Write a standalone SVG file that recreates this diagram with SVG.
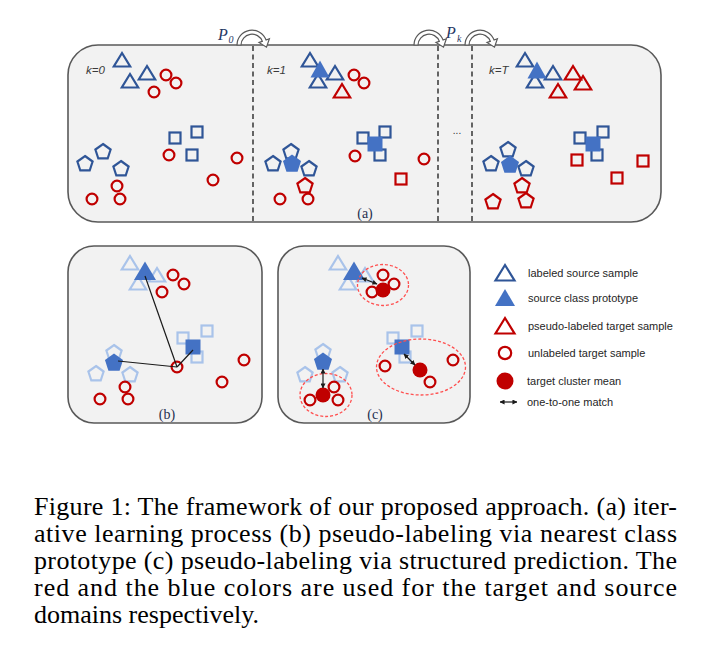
<svg xmlns="http://www.w3.org/2000/svg" xmlns:xlink="http://www.w3.org/1999/xlink" width="703" height="658" viewBox="0 0 703 658">
<style>
.panel{fill:#F2F2F2;stroke:#595959;stroke-width:1.6}
.div{stroke:#404040;stroke-width:1.6;stroke-dasharray:5 3.5;fill:none}
.bo{fill:none;stroke:#2F5597;stroke-width:2.2}
.ro{fill:none;stroke:#C00000;stroke-width:2.2}
.lo{fill:none;stroke:#A9C3EA;stroke-width:2.2}
.bf{fill:#4472C4;stroke:none}
.rf{fill:#C00000;stroke:none}
.ell{fill:none;stroke:#FF4F4F;stroke-width:1.3;stroke-dasharray:3 2}
.ln{stroke:#1a1a1a;stroke-width:1.2;fill:none}
.dbl{stroke:#1a1a1a;stroke-width:1.2;fill:none;marker-start:url(#ah);marker-end:url(#ah)}
.curv{fill:#ffffff;stroke:#595959;stroke-width:1.2}
.k{font-family:'Liberation Sans',Arial,sans-serif;font-style:italic;font-size:11.5px;fill:#3a3a3a}
.lab{font-family:'Liberation Serif','Times New Roman',serif;font-size:14px;fill:#1f2f4f;text-anchor:middle}
.leg{font-family:'Liberation Sans',Arial,sans-serif;font-size:11px;fill:#262626}
.cap{font-family:'Liberation Serif','Times New Roman',serif;font-size:26px;fill:#000}
.p{font-family:'Liberation Serif','Times New Roman',serif;font-style:italic;fill:#1F3864}
</style>
<defs>
<polygon id="tri" points="0,-7 8.2,6.5 -8.2,6.5"/>
<polygon id="triF" points="0,-9.5 9.5,7.5 -9.5,7.5"/>
<polygon id="triB" points="0,-10.5 11,8 -11,8"/>
<polygon id="pent" points="0,-8 7.61,-2.47 4.7,6.47 -4.7,6.47 -7.61,-2.47"/>
<polygon id="pentF" points="0,-9.5 9.04,-2.94 5.58,7.69 -5.58,7.69 -9.04,-2.94"/>
<rect id="sq" x="-5.5" y="-5.5" width="11" height="11"/>
<rect id="sqF" x="-7.5" y="-7.5" width="15" height="15"/>
<circle id="cir" r="5.4"/>
<path id="arc" d="M -15 0 A 15 15 0 0 1 14.1 -5 L 17.4 -6.2 L 14.5 2.2 L 7 -2.6 L 10.3 -3.7 A 11 11 0 0 0 -11 0 Z"/>
<marker id="ah" viewBox="0 0 6 6" refX="5.5" refY="3" markerWidth="5" markerHeight="5" markerUnits="userSpaceOnUse" orient="auto-start-reverse">
<path d="M0,0 L6,3 L0,6 z" fill="#1a1a1a"/>
</marker>
</defs>
<rect width="703" height="658" fill="#ffffff"/>

<!-- panel (a) -->
<g id="panel-a">
<rect class="panel" x="68" y="45" width="593" height="177" rx="30" ry="30"/>
<line class="div" x1="253" y1="46" x2="253" y2="221"/>
<line class="div" x1="438" y1="46" x2="438" y2="221"/>
<line class="div" x1="472" y1="46" x2="472" y2="221"/>
<text class="k" x="86" y="74">k=0</text>
<text class="k" x="267" y="74">k=1</text>
<text class="k" x="489" y="74">k=T</text>
<text x="457" y="134" font-family="'Liberation Sans',Arial,sans-serif" font-size="10" fill="#333" text-anchor="middle">...</text>
<text class="lab" x="365" y="218">(a)</text>
</g>

<g id="k0">
<use href="#tri" x="122" y="60" class="bo"/><use href="#tri" x="130" y="81" class="bo"/><use href="#tri" x="147" y="73" class="bo"/>
<use href="#cir" x="166" y="75" class="ro"/><use href="#cir" x="176" y="83" class="ro"/><use href="#cir" x="154" y="92" class="ro"/>
<use href="#sq" x="197" y="132" class="bo"/><use href="#sq" x="175" y="138" class="bo"/><use href="#sq" x="192" y="155" class="bo"/>
<use href="#cir" x="169" y="155" class="ro"/><use href="#cir" x="237" y="158" class="ro"/><use href="#cir" x="213" y="180" class="ro"/>
<use href="#pent" x="103" y="152" class="bo"/><use href="#pent" x="85" y="164" class="bo"/><use href="#pent" x="121" y="169" class="bo"/>
<use href="#cir" x="117" y="186" class="ro"/><use href="#cir" x="120" y="199" class="ro"/><use href="#cir" x="92" y="199" class="ro"/>
</g>

<g id="k1">
<use href="#tri" x="310" y="60" class="bo"/><use href="#tri" x="318" y="81" class="bo"/><use href="#tri" x="335" y="73" class="bo"/>
<use href="#triF" x="320" y="70" class="bf"/>
<use href="#tri" x="342" y="91" class="ro"/>
<use href="#cir" x="354" y="75" class="ro"/><use href="#cir" x="364" y="83" class="ro"/>
<use href="#sq" x="385" y="132" class="bo"/><use href="#sq" x="363" y="138" class="bo"/><use href="#sq" x="380" y="155" class="bo"/>
<use href="#sqF" x="375" y="144" class="bf"/>
<use href="#cir" x="355" y="156" class="ro"/><use href="#cir" x="424" y="159" class="ro"/>
<use href="#sq" x="401" y="179" class="ro"/>
<use href="#pent" x="291" y="152" class="bo"/><use href="#pent" x="273" y="164" class="bo"/><use href="#pent" x="309" y="169" class="bo"/>
<use href="#pentF" x="292" y="164" class="bf"/>
<use href="#pent" x="305" y="186" class="ro"/>
<use href="#cir" x="308" y="199" class="ro"/><use href="#cir" x="280" y="199" class="ro"/>
</g>

<g id="kT">
<use href="#tri" x="525" y="60" class="bo"/><use href="#tri" x="535" y="81" class="bo"/><use href="#tri" x="553" y="73" class="bo"/>
<use href="#triF" x="537" y="71" class="bf"/>
<use href="#tri" x="573" y="73" class="ro"/><use href="#tri" x="583" y="83" class="ro"/><use href="#tri" x="558" y="91" class="ro"/>
<use href="#sq" x="603" y="132" class="bo"/><use href="#sq" x="580" y="138" class="bo"/><use href="#sq" x="597" y="155" class="bo"/>
<use href="#sqF" x="593" y="144" class="bf"/>
<use href="#sq" x="577" y="160" class="ro"/><use href="#sq" x="643" y="161" class="ro"/><use href="#sq" x="617" y="178" class="ro"/>
<use href="#pent" x="508" y="150" class="bo"/><use href="#pent" x="491" y="164" class="bo"/><use href="#pent" x="526" y="169" class="bo"/>
<use href="#pentF" x="510" y="165" class="bf"/>
<use href="#pent" x="522" y="186" class="ro"/><use href="#pent" x="526" y="201" class="ro"/><use href="#pent" x="493" y="202" class="ro"/>
</g>

<!-- panel (b) -->
<g id="panel-b">
<rect class="panel" x="68" y="246" width="194" height="177" rx="26" ry="26"/>
<use href="#tri" x="130" y="263" class="lo"/><use href="#tri" x="157" y="275" class="lo"/><use href="#tri" x="138" y="283" class="lo"/>
<use href="#triB" x="145" y="272" class="bf"/>
<use href="#cir" x="173" y="275" class="ro"/><use href="#cir" x="184" y="284" class="ro"/><use href="#cir" x="162" y="292" class="ro"/>
<use href="#sq" x="207" y="331" class="lo"/><use href="#sq" x="183" y="338" class="lo"/><use href="#sq" x="197" y="357" class="lo"/>
<use href="#sqF" x="193" y="347" class="bf"/>
<use href="#cir" x="177" y="367" class="ro"/><use href="#cir" x="244" y="360" class="ro"/><use href="#cir" x="222" y="382" class="ro"/>
<use href="#pent" x="114" y="353" class="lo"/><use href="#pent" x="96" y="374" class="lo"/><use href="#pent" x="130" y="375" class="lo"/>
<use href="#pentF" x="114" y="363" class="bf"/>
<use href="#cir" x="125" y="387" class="ro"/><use href="#cir" x="128" y="399" class="ro"/><use href="#cir" x="100" y="399" class="ro"/>
<text class="lab" x="167" y="419">(b)</text>
</g>

<!-- panel (c) -->
<g id="panel-c">
<rect class="panel" x="278" y="246" width="192" height="177" rx="26" ry="26"/>
<use href="#tri" x="338" y="263" class="lo"/><use href="#tri" x="365" y="275" class="lo"/><use href="#tri" x="348" y="283" class="lo"/>
<use href="#triB" x="354" y="272" class="bf"/>
<ellipse class="ell" cx="383" cy="285" rx="25.5" ry="20.5"/>
<use href="#cir" x="383" y="275" class="ro"/><use href="#cir" x="394" y="284" class="ro"/><use href="#cir" x="372" y="292" class="ro"/>
<circle cx="383" cy="290" r="7.5" class="rf"/>
<use href="#sq" x="417" y="331" class="lo"/><use href="#sq" x="393" y="338" class="lo"/><use href="#sq" x="405" y="357" class="lo"/>
<use href="#sqF" x="402" y="347" class="bf"/>
<ellipse class="ell" cx="421" cy="367" rx="44.5" ry="28"/>
<use href="#cir" x="385" y="366" class="ro"/><use href="#cir" x="453" y="360" class="ro"/><use href="#cir" x="430" y="382" class="ro"/>
<circle cx="420" cy="370" r="7.5" class="rf"/>
<use href="#pent" x="323" y="352" class="lo"/><use href="#pent" x="305" y="375" class="lo"/><use href="#pent" x="340" y="375" class="lo"/>
<use href="#pentF" x="323" y="362" class="bf"/>
<ellipse class="ell" cx="326" cy="395" rx="26" ry="21.5"/>
<use href="#cir" x="334" y="387" class="ro"/><use href="#cir" x="338" y="400" class="ro"/><use href="#cir" x="310" y="400" class="ro"/>
<circle cx="323" cy="395" r="7.5" class="rf"/>
<text class="lab" x="375" y="419">(c)</text>
</g>

<!-- connectors -->
<g id="connectors">
<use href="#arc" x="252" y="45" class="curv"/>
<use href="#arc" x="429" y="45" class="curv"/>
<use href="#arc" x="480" y="45" class="curv"/>
<line class="ln" x1="145" y1="276" x2="177" y2="367"/>
<line class="ln" x1="118" y1="361" x2="177" y2="367"/>
<line class="ln" x1="193" y1="350" x2="177" y2="367"/>
<line class="dbl" x1="362" y1="278" x2="377" y2="284"/>
<line class="dbl" x1="404" y1="354" x2="415" y2="365"/>
<line class="dbl" x1="323" y1="369" x2="323" y2="388"/>
<line class="dbl" x1="500" y1="402" x2="517" y2="402"/>
</g>

<g id="P-labels">
<text class="p" x="218" y="40" font-size="16">P</text><text class="p" x="228.5" y="43" font-size="10">0</text>
<text class="p" x="446" y="38" font-size="16">P</text><text class="p" x="457" y="42" font-size="10">k</text>
</g>

<!-- legend -->
<g id="legend">
<g id="leg1"><polygon points="505,265 514.5,280.5 495.5,280.5" class="bo" stroke-width="2.4"/><text class="leg" x="528" y="277">labeled source sample</text></g>
<g id="leg2"><polygon points="505,289 515,306 495,306" class="bf"/><text class="leg" x="528" y="302">source class prototype</text></g>
<g id="leg3"><polygon points="505,318 514.5,333.5 495.5,333.5" class="ro" stroke-width="2.4"/><text class="leg" x="528" y="330">pseudo-labeled target sample</text></g>
<g id="leg4"><circle cx="505" cy="353" r="6.2" class="ro" stroke-width="2.4"/><text class="leg" x="528" y="357">unlabeled target sample</text></g>
<g id="leg5"><circle cx="505" cy="381" r="8.5" class="rf"/><text class="leg" x="527" y="385">target cluster mean</text></g>
<g id="leg6"><text class="leg" x="527" y="406">one-to-one match</text></g>
</g>

<!-- caption -->
<g id="caption">
<text class="cap" x="34" y="515" textLength="643" lengthAdjust="spacing">Figure 1: The framework of our proposed approach. (a) iter-</text>
<text class="cap" x="34" y="542" textLength="643" lengthAdjust="spacing">ative learning process (b) pseudo-labeling via nearest class</text>
<text class="cap" x="34" y="569" textLength="643" lengthAdjust="spacing">prototype (c) pseudo-labeling via structured prediction. The</text>
<text class="cap" x="34" y="596" textLength="643" lengthAdjust="spacing">red and the blue colors are used for the target and source</text>
<text class="cap" x="34" y="623">domains respectively.</text>
</g>
</svg>
